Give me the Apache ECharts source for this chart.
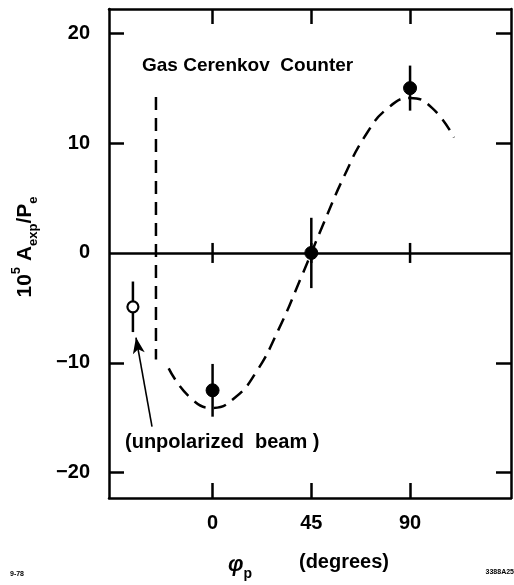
<!DOCTYPE html>
<html>
<head>
<meta charset="utf-8">
<style>
  html, body { margin: 0; padding: 0; background: #fff; }
  #chart { width: 514px; height: 585px; }
</style>
<script src="https://cdn.jsdelivr.net/npm/echarts@6/dist/echarts.min.js"></script>
</head>
<body>
<div id="chart"></div>
<script>
// Axis ranges (degrees, 10^5 A_exp / P_e)
const xRange = [-47.2, 136];
const yRange = [-22.3, 22.2];
const xTicks = [0, 45, 90];
const yTicks = [-20, -10, 10, 20];
const yLabels = [-20, -10, 0, 10, 20];

// Measured asymmetries: [phi_p, value, error]
const polarizedPoints = [
  [0, -12.5, 2.4],
  [45, 0.0, 3.2],
  [90, 15.0, 2.05]
];
// Unpolarized beam measurement (shown at the left, open circle)
const unpolarizedPoints = [
  [-36.3, -4.9, 2.3]
];

// Fitted dashed curve: phi_p and value
const fitPhi = [-20, -10, 0, 10, 20, 30, 40, 50, 60, 70, 80, 90, 100, 110];
const fitValue = [-10.5, -13.2, -14.1, -13.2, -10.8, -7.0, -2.4, 2.4, 7.0, 10.8, 13.2, 14.1, 13.2, 10.5];

// Dashed vertical separator: phi position, top value, bottom value
const separatorPhi = -25.8;
const separatorSpan = [14.2, -9.7];

// Arrow from the "(unpolarized beam)" note to the open point
const arrowFrom = [-27.6, -15.8];
const arrowTo = [-34.9, -7.7];

const FONT = '"Liberation Sans", Arial, sans-serif';
const INK = '#000';
const LW = 2.5;

const chart = echarts.init(document.getElementById('chart'), null, { renderer: 'canvas' });

function errorBarItem(open) {
  return function (params, api) {
    const x = api.value(0), y = api.value(1), e = api.value(2);
    const top = api.coord([x, y + e]);
    const bot = api.coord([x, y - e]);
    const c = api.coord([x, y]);
    return {
      type: 'group',
      children: [
        { type: 'line', shape: { x1: top[0], y1: top[1], x2: bot[0], y2: bot[1] },
          style: { stroke: INK, lineWidth: LW } },
        { type: 'circle', shape: { cx: c[0], cy: c[1], r: open ? 5.5 : 6.5 },
          style: { fill: open ? '#fff' : INK, stroke: INK, lineWidth: open ? 2.2 : 1 } }
      ]
    };
  };
}

const axisCommon = {
  type: 'value',
  splitLine: { show: false },
  axisLine: { show: true, onZero: false, lineStyle: { color: INK, width: LW } }
};

const option = {
  backgroundColor: '#fff',
  animation: false,
  grid: { left: 109, right: 3, top: 9, bottom: 87 },
  xAxis: [
    Object.assign({}, axisCommon, {
      position: 'bottom', min: xRange[0], max: xRange[1],
      axisTick: { show: true, inside: true, length: 15, customValues: xTicks,
        lineStyle: { color: INK, width: LW } },
      axisLabel: { show: true, customValues: xTicks, margin: 15, color: INK,
        fontFamily: FONT, fontSize: 20, fontWeight: 'bold' }
    }),
    Object.assign({}, axisCommon, {
      position: 'top', min: xRange[0], max: xRange[1],
      axisTick: { show: true, inside: true, length: 15, customValues: xTicks,
        lineStyle: { color: INK, width: LW } },
      axisLabel: { show: false }
    })
  ],
  yAxis: [
    Object.assign({}, axisCommon, {
      position: 'left', min: yRange[0], max: yRange[1],
      axisTick: { show: true, inside: true, length: 15, customValues: yTicks,
        lineStyle: { color: INK, width: LW } },
      axisLabel: { show: true, customValues: yLabels, margin: 19, color: INK,
        fontFamily: FONT, fontSize: 20, fontWeight: 'bold',
        formatter: v => (v < 0 ? '\u2212' + Math.abs(v) : String(v)) }
    }),
    Object.assign({}, axisCommon, {
      position: 'right', min: yRange[0], max: yRange[1],
      axisTick: { show: true, inside: true, length: 15, customValues: yTicks,
        lineStyle: { color: INK, width: LW } },
      axisLabel: { show: false }
    })
  ],
  series: [
    {
      // fitted curve
      type: 'line',
      data: fitPhi.map((p, i) => [p, fitValue[i]]),
      smooth: true,
      showSymbol: false,
      lineStyle: { color: INK, width: LW, type: [13, 8] },
      silent: true,
      markLine: {
        silent: true,
        symbol: ['none', 'none'],
        label: { show: false },
        lineStyle: { color: INK, width: LW, type: 'solid' },
        data: [{ yAxis: 0 }]
      }
    },
    {
      // dashed separator
      type: 'line',
      data: [[separatorPhi, separatorSpan[0]], [separatorPhi, separatorSpan[1]]],
      showSymbol: false,
      lineStyle: { color: INK, width: LW, type: [13, 8] },
      silent: true,
      markLine: {
        silent: true,
        symbol: ['none', 'arrow'],
        symbolSize: [9, 16],
        label: { show: false },
        lineStyle: { color: INK, width: 1.6, type: 'solid' },
        data: [[{ coord: arrowFrom }, { coord: arrowTo }]]
      }
    },
    {
      // small ticks crossing the zero line
      type: 'custom',
      data: xTicks.map(t => [t, 0]),
      renderItem: function (params, api) {
        const c = api.coord([api.value(0), 0]);
        return { type: 'line', shape: { x1: c[0], y1: c[1] - 10, x2: c[0], y2: c[1] + 10 },
          style: { stroke: INK, lineWidth: LW } };
      },
      silent: true
    },
    {
      type: 'custom',
      data: polarizedPoints,
      renderItem: errorBarItem(false),
      silent: true,
      z: 5
    },
    {
      type: 'custom',
      data: unpolarizedPoints,
      renderItem: errorBarItem(true),
      silent: true,
      z: 5
    }
  ],
  graphic: [
    { type: 'text', left: 142, top: 56,
      style: { text: 'Gas Cerenkov  Counter', fill: INK, font: 'bold 19px ' + FONT } },
    { type: 'text', left: 125, top: 432,
      style: { text: '(unpolarized  beam )', fill: INK, font: 'bold 20px ' + FONT } },
    { type: 'text', x: 25, y: 247, rotation: Math.PI / 2,
      style: {
        text: '{b|10}{sup|5}{b| A}{sub|exp}{b|/P}{sub|e}',
        align: 'center', verticalAlign: 'middle', fill: INK,
        rich: {
          b: { fontFamily: FONT, fontSize: 21, fontWeight: 'bold', lineHeight: 30, verticalAlign: 'middle' },
          sup: { fontFamily: FONT, fontSize: 13, fontWeight: 'bold', lineHeight: 13, verticalAlign: 'top' },
          sub: { fontFamily: FONT, fontSize: 13, fontWeight: 'bold', lineHeight: 13, verticalAlign: 'bottom' }
        }
      } },
    { type: 'text', x: 240, y: 565,
      style: {
        text: '{phi|\u03c6}{sub|p}', align: 'center', verticalAlign: 'middle', fill: INK,
        rich: {
          phi: { fontFamily: FONT, fontSize: 22, fontWeight: 'bold', fontStyle: 'italic', lineHeight: 32, verticalAlign: 'middle' },
          sub: { fontFamily: FONT, fontSize: 14, fontWeight: 'bold', lineHeight: 14, verticalAlign: 'bottom' }
        }
      } },
    { type: 'text', x: 344, y: 562,
      style: { text: '(degrees)', align: 'center', verticalAlign: 'middle', fill: INK,
        font: 'bold 20px ' + FONT } },
    { type: 'text', left: 10, top: 571,
      style: { text: '9-78', fill: INK, font: 'bold 7px ' + FONT } },
    { type: 'text', right: 0, top: 569,
      style: { text: '3388A25', fill: INK, font: 'bold 7px ' + FONT } }
  ]
};

chart.setOption(option);
</script>
</body>
</html>
